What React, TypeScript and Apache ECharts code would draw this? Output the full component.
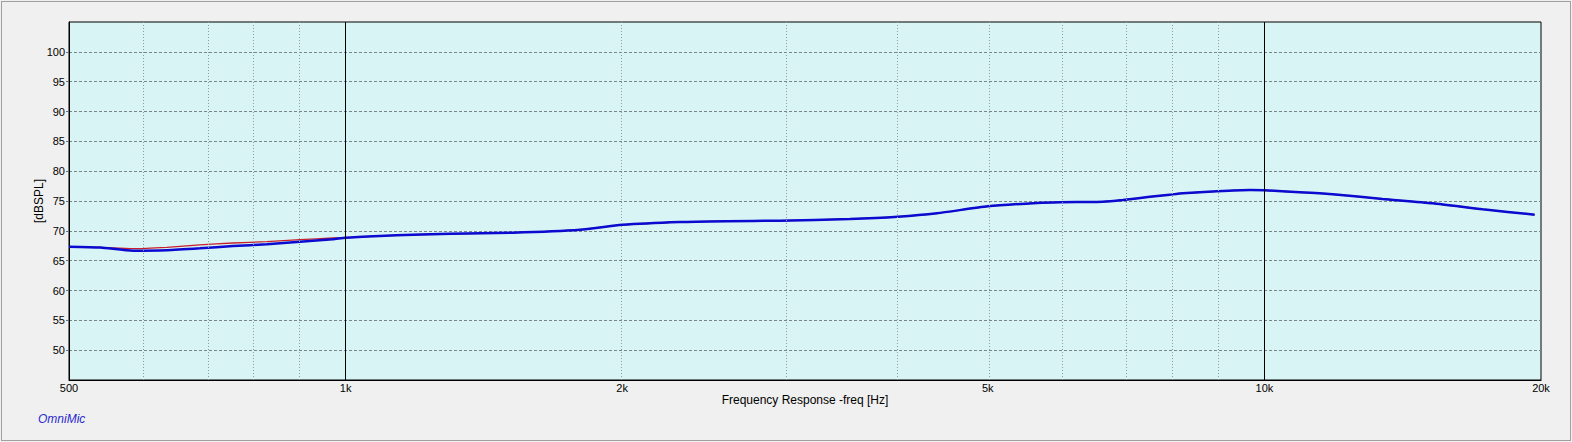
import React, { useEffect, useRef } from 'react';
import * as echarts from 'echarts';

// Frequency (Hz) and levels (dB SPL)
const freqHz = [500, 541, 587, 639, 694, 754, 821, 892, 968, 1000, 1089, 1184, 1300, 1521, 1799, 2000, 2311, 2600, 2969, 3539, 3991, 4402, 5000, 5654, 6000, 6672, 7013, 7505, 7889, 8152, 8874, 9640, 10000, 10927, 11866, 13448, 15249, 17282, 19683];
const blueDb = [67.34, 67.2, 66.67, 66.75, 67.07, 67.46, 67.75, 68.18, 68.58, 68.85, 69.14, 69.35, 69.5, 69.69, 70.19, 71.0, 71.48, 71.62, 71.7, 71.99, 72.37, 72.94, 74.11, 74.67, 74.8, 74.88, 75.17, 75.7, 76.06, 76.29, 76.63, 76.85, 76.8, 76.46, 76.12, 75.34, 74.62, 73.61, 72.71];
const redDb = [67.34, 67.22, 67.01, 67.24, 67.63, 67.96, 68.18, 68.52, 68.8, 68.85, 69.14, 69.35, 69.5, 69.69, 70.19, 71.0, 71.48, 71.62, 71.7, 71.99, 72.37, 72.94, 74.11, 74.67, 74.8, 74.88, 75.17, 75.7, 76.06, 76.29, 76.63, 76.85, 76.8, 76.46, 76.12, 75.34, 74.62, 73.61, 72.71];

const xLabelHz = [500, 1000, 2000, 5000, 10000, 20000];
const minorGridHz = [600, 700, 800, 900, 2000, 3000, 4000, 5000, 6000, 7000, 8000, 9000];
const majorGridHz = [1000, 10000];
const xMinHz = 500;
const xMaxHz = 20000;
const yMin = 45;
const yMax = 105;
const yStep = 5;

const lg = (v: number) => Math.log10(v);
const fmtHz = (f: number) => (f >= 1000 ? `${Math.round(f / 1000)}k` : `${Math.round(f)}`);

export default function App() {
  const ref = useRef<HTMLDivElement>(null);

  useEffect(() => {
    document.body.style.margin = '0';
    if (!ref.current) return;
    const chart = echarts.init(ref.current, undefined, { renderer: 'svg' });
    const font = '"Liberation Sans", Arial, sans-serif';

    chart.setOption({
      animation: false,
      backgroundColor: 'transparent',
      grid: {
        left: 69,
        top: 22,
        right: 31,
        bottom: 62,
        show: true,
        backgroundColor: '#d8f4f4',
        borderColor: '#000000',
        borderWidth: 1,
      },
      xAxis: {
        type: 'value',
        min: lg(xMinHz),
        max: lg(xMaxHz),
        name: 'Frequency Response -freq [Hz]',
        nameLocation: 'middle',
        nameGap: 14,
        nameMoveOverlap: false,
        nameTextStyle: { fontFamily: font, fontSize: 12, color: '#000' },
        axisLine: { show: true, lineStyle: { color: '#000', width: 1 } },
        axisTick: { show: false },
        splitLine: { show: false },
        axisLabel: {
          customValues: xLabelHz.map(lg),
          formatter: (v: number) => fmtHz(Math.pow(10, v)),
          fontFamily: font,
          fontSize: 11,
          color: '#000',
          margin: 2,
        },
      },
      yAxis: {
        type: 'value',
        min: yMin,
        max: yMax,
        interval: yStep,
        name: '[dBSPL]',
        nameLocation: 'middle',
        nameGap: 24,
        nameMoveOverlap: false,
        nameTextStyle: { fontFamily: font, fontSize: 12, color: '#000' },
        axisLine: { show: true, lineStyle: { color: '#000', width: 1 } },
        axisTick: { show: true, length: 3, lineStyle: { color: '#707070' } },
        splitLine: {
          show: true,
          showMinLine: false,
          showMaxLine: false,
          lineStyle: { color: '#7a8585', type: [3, 2], width: 1 },
        },
        axisLabel: {
          showMinLabel: false,
          showMaxLabel: false,
          fontFamily: font,
          fontSize: 11,
          color: '#000',
          margin: 4,
        },
      },
      series: [
        {
          type: 'line',
          data: [],
          z: 1,
          silent: true,
          markLine: {
            silent: true,
            symbol: ['none', 'none'],
            label: { show: false },
            emphasis: { disabled: true },
            data: [
              ...minorGridHz.map((f) => ({
                xAxis: lg(f),
                lineStyle: { color: '#8c9c9c', type: [1, 2], width: 1 },
              })),
              ...majorGridHz.map((f) => ({
                xAxis: lg(f),
                lineStyle: { color: '#000000', type: 'solid', width: 1 },
              })),
            ],
          },
        },
        {
          type: 'line',
          name: 'red',
          data: freqHz.map((f, i) => [lg(f), redDb[i]]),
          showSymbol: false,
          smooth: 0.2,
          z: 3,
          lineStyle: { color: '#c8202a', width: 1.3 },
        },
        {
          type: 'line',
          name: 'blue',
          data: freqHz.map((f, i) => [lg(f), blueDb[i]]),
          showSymbol: false,
          smooth: 0.2,
          z: 4,
          lineStyle: { color: '#0a0ad0', width: 2.5 },
        },
      ],
      graphic: [
        {
          type: 'text',
          left: 38,
          top: 413,
          style: {
            text: 'OmniMic',
            fontFamily: font,
            fontSize: 12,
            fontStyle: 'italic',
            fill: '#2a2ad2',
          },
        },
      ],
    });

    return () => chart.dispose();
  }, []);

  return (
    <div style={{ position: 'relative', width: 1572, height: 442, background: '#f0f0f0', overflow: 'hidden' }}>
      <div
        style={{
          position: 'absolute',
          left: 1,
          top: 1,
          width: 1570,
          height: 440,
          border: '1px solid #a0a0a0',
          boxSizing: 'border-box',
        }}
      />
      <div ref={ref} style={{ position: 'absolute', left: 0, top: 0, width: 1572, height: 442 }} />
    </div>
  );
}
